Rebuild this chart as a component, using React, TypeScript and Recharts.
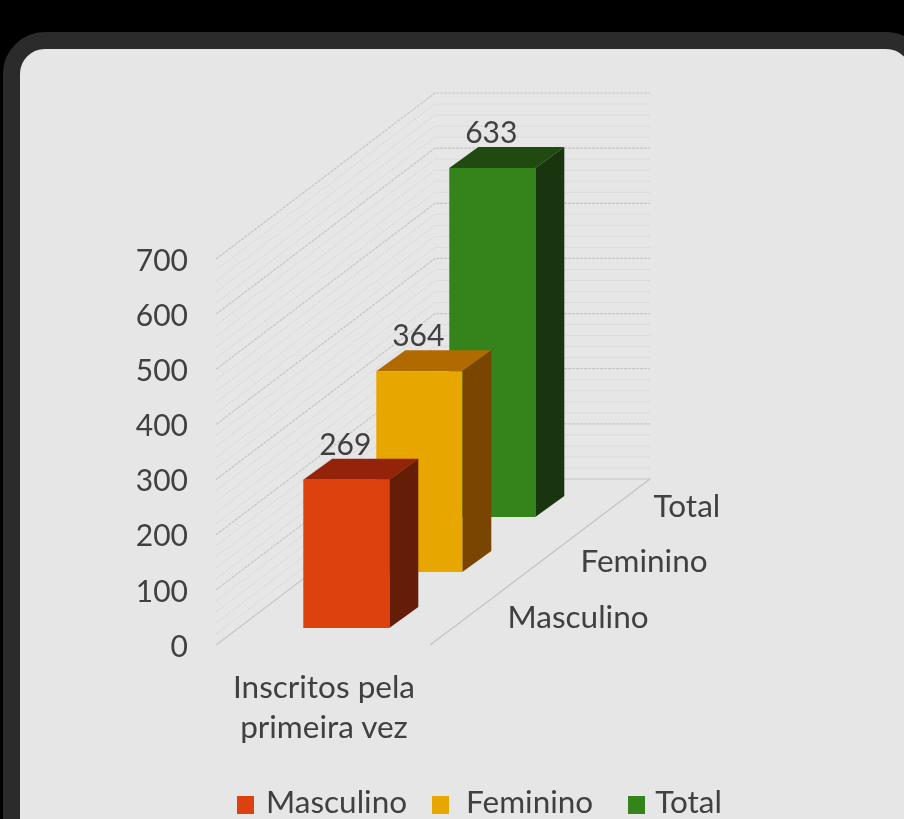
import { Bar, BarChart, CartesianGrid, Label, LabelList, Legend, XAxis, YAxis } from "recharts";

const categories = ["Masculino", "Feminino", "Total"];
const enrolled = [269, 364, 633];
const yTicks = [0, 100, 200, 300, 400, 500, 600, 700];
const gridLevels = [
  0, 20, 40, 60, 80, 100, 120, 140, 160, 180, 200, 220, 240, 260, 280, 300, 320, 340,
  360, 380, 400, 420, 440, 460, 480, 500, 520, 540, 560, 580, 600, 620, 640, 660, 680, 700,
];
const groupLabel = ["Inscritos pela", "primeira vez"];

const data = categories.map((name, i) => ({ name, [name]: enrolled[i] }));

const FONT = "Lato, sans-serif";
const TEXT = "#404040";
const LABEL_SIZE = 31.5;
const NUMBER_SIZE = 30;

// fake 3d: how far each row sits back on the floor, and the bar depth
const ROW_SHIFT = [17, 73, 128];
const BAR_WIDTH = 86;
const DEPTH_X = 29;
const DEPTH_Y = 21;
const WALL_X = 219;
const WALL_Y = 166;
const DEPTH_TICK_Y = -6;

const faces: Record<string, { front: string; top: string; side: string }> = {
  Masculino: { front: "#dc410e", top: "#93240a", side: "#641d07" },
  Feminino: { front: "#e8a600", top: "#b06a00", side: "#7a4500" },
  Total: { front: "#35831b", top: "#1f4a10", side: "#193510" },
};

function Bar3d(props: any) {
  const { x, y, width, height, index, name } = props;
  if (!height || height <= 0) return null;
  const c = faces[name];
  const left = x + width / 2 - BAR_WIDTH / 2;
  const right = left + BAR_WIDTH;
  const top = y - ROW_SHIFT[index];
  const bottom = top + height;
  return (
    <g>
      <polygon points={`${left},${top} ${left + DEPTH_X},${top - DEPTH_Y} ${right + DEPTH_X},${top - DEPTH_Y} ${right},${top}`} fill={c.top} />
      <polygon points={`${right},${top} ${right + DEPTH_X},${top - DEPTH_Y} ${right + DEPTH_X},${bottom - DEPTH_Y} ${right},${bottom}`} fill={c.side} />
      <rect x={left} y={top} width={BAR_WIDTH} height={height} fill={c.front} />
    </g>
  );
}

function valueLabel(props: any) {
  const { x, y, width, value, index } = props;
  if (!value) return null;
  return (
    <text x={x + width / 2 - 1} y={y - ROW_SHIFT[index] - 25} textAnchor="middle" fontFamily={FONT} fontSize={NUMBER_SIZE} fill={TEXT}>
      {value}
    </text>
  );
}

function wallLine(props: any) {
  const { x1, x2, y1, index, key } = props;
  const major = index % 5 === 0;
  const isFloor = y1 > 640;
  return (
    <g key={key}>
      <polyline
        points={`${x1},${y1} ${x1 + WALL_X},${y1 - WALL_Y} ${x2},${y1 - WALL_Y}`}
        fill="none"
        stroke={major ? "#c6c6c6" : "#d8d8d8"}
        strokeWidth={major ? 1.2 : 1}
        strokeDasharray={isFloor ? undefined : "3 1"}
      />
      {isFloor && <line x1={x1 + 214} y1={y1} x2={x2} y2={y1 - WALL_Y} stroke="#c2c2c2" strokeWidth={1.2} />}
    </g>
  );
}

function rowTick(props: any) {
  const { x, y, index, payload } = props;
  return (
    <text x={x + 161} y={y - ROW_SHIFT[index] + DEPTH_TICK_Y} fontFamily={FONT} fontSize={LABEL_SIZE} fill={TEXT}>
      {payload.value}
    </text>
  );
}

function groupText() {
  return (
    <text textAnchor="middle" fontFamily={FONT} fontSize={LABEL_SIZE} fill={TEXT}>
      <tspan x={324} y={698}>{groupLabel[0]}</tspan>
      <tspan x={324} y={738}>{groupLabel[1]}</tspan>
    </text>
  );
}

const legendGaps = [25, 35, 0];
const swatchGaps = [12, 17, 10];

function legendContent(props: any) {
  const items = props.payload || [];
  return (
    <div style={{ display: "flex", alignItems: "center", whiteSpace: "nowrap", fontFamily: FONT, fontSize: LABEL_SIZE, color: TEXT, lineHeight: "30px" }}>
      {items.map((item: any, i: number) => (
        <span key={item.value} style={{ display: "flex", alignItems: "center", marginRight: legendGaps[i] }}>
          <span style={{ width: 17, height: 18, background: item.color, marginRight: swatchGaps[i], position: "relative", top: 4 }} />
          {item.value}
        </span>
      ))}
    </div>
  );
}

export default function App() {
  return (
    <div style={{ position: "absolute", left: 0, top: 0, width: 904, height: 819, overflow: "hidden", background: "#000" }}>
      <div
        style={{
          position: "absolute",
          left: 3,
          top: 32,
          width: 925,
          height: 830,
          boxSizing: "border-box",
          border: "17px solid #2b2b2b",
          borderRadius: 42,
          background: "#e6e6e6",
        }}
      />
      <div style={{ position: "absolute", left: 0, top: 0, filter: "blur(0.6px)" }}>
        <BarChart
          width={904}
          height={819}
          data={data}
          margin={{ top: 259, right: 254, bottom: 144, left: 0 }}
          style={{ overflow: "visible" }}
        >
          <CartesianGrid vertical={false} horizontal={wallLine} horizontalValues={gridLevels} />
          <XAxis
            dataKey="name"
            height={30}
            axisLine={false}
            tickLine={false}
            tickMargin={0}
            interval={0}
            padding={{ left: 94, right: 121 }}
            tick={rowTick}
          >
            <Label content={groupText} />
          </XAxis>
          <YAxis
            width={216}
            domain={[0, 700]}
            ticks={yTicks}
            interval={0}
            axisLine={false}
            tickLine={false}
            tickMargin={22}
            tick={{ fontFamily: FONT, fontSize: NUMBER_SIZE, fill: TEXT, dy: 1 }}
          />
          <Legend
            layout="horizontal"
            verticalAlign="middle"
            width={600}
            content={legendContent}
            itemSorter={(item: any) => categories.indexOf(item.value)}
            wrapperStyle={{ left: 237, top: 786 }}
          />
          {[...categories].reverse().map((name) => (
            <Bar key={name} dataKey={name} name={name} stackId="rows" fill={faces[name].front} shape={(p: any) => <Bar3d {...p} name={name} />} isAnimationActive={false}>
              <LabelList dataKey={name} content={valueLabel} />
            </Bar>
          ))}
        </BarChart>
      </div>
    </div>
  );
}
